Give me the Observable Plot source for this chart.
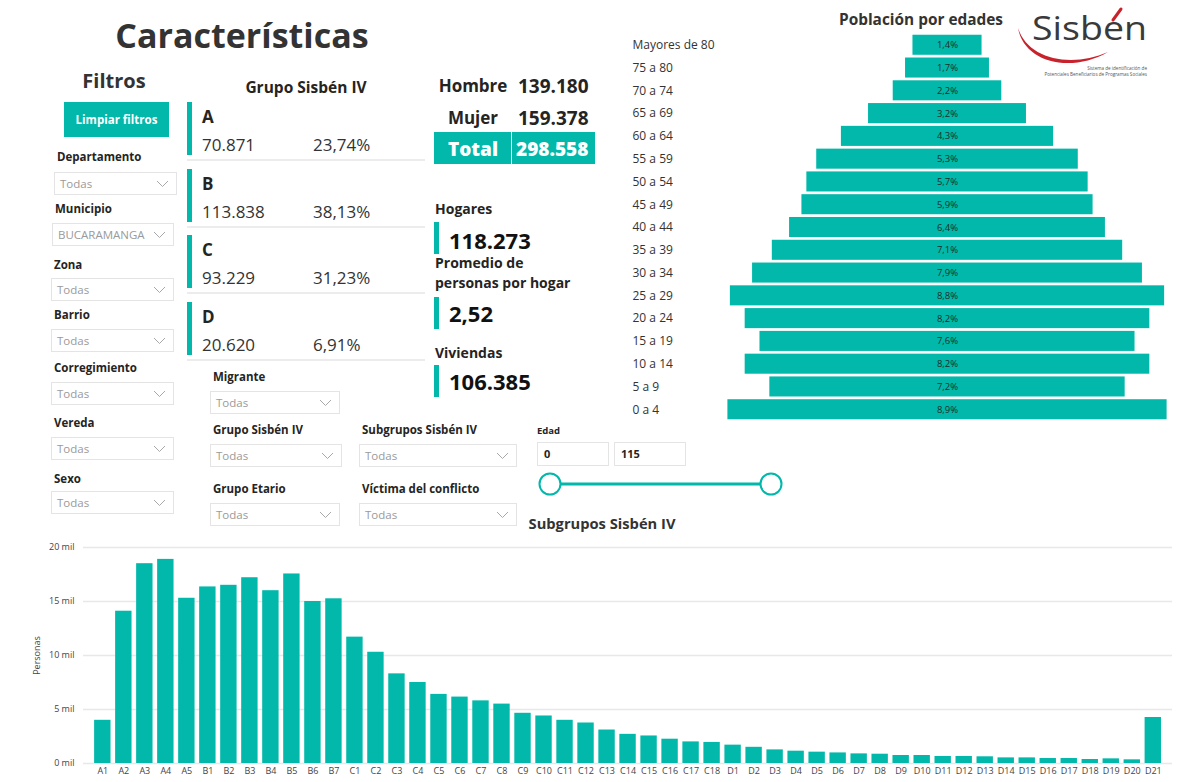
<!DOCTYPE html>
<html><head><meta charset="utf-8">
<script src="https://cdn.jsdelivr.net/npm/d3@7"></script>
<script src="https://cdn.jsdelivr.net/npm/@observablehq/plot@0.6"></script>
<style>
body{margin:0;background:#fff;font-family:"Open Sans","Noto Sans",sans-serif;color:#252423;}
#root{position:relative;width:1196px;height:782px;overflow:hidden;background:#fff;}
.t{position:absolute;white-space:nowrap;line-height:1.2;}
.box{position:absolute;box-sizing:border-box;border:1px solid #e4e4e4;background:#fff;}
.box span{position:absolute;left:5px;top:50%;transform:translateY(-52%);font-size:11.5px;color:#9a9a9a;}
.box svg{position:absolute;right:7px;top:50%;margin-top:-4px;}
.plotwrap{position:absolute;}
</style></head>
<body><div id="root"></div>
<script>
// ---------- data ----------
const ageGroups = ["Mayores de 80","75 a 80","70 a 74","65 a 69","60 a 64","55 a 59","50 a 54","45 a 49","40 a 44","35 a 39","30 a 34","25 a 29","20 a 24","15 a 19","10 a 14","5 a 9","0 a 4"];
const agePct = [1.4,1.7,2.2,3.2,4.3,5.3,5.7,5.9,6.4,7.1,7.9,8.8,8.2,7.6,8.2,7.2,8.9];

const subgroups = ["A1","A2","A3","A4","A5","B1","B2","B3","B4","B5","B6","B7",
  "C1","C2","C3","C4","C5","C6","C7","C8","C9","C10","C11","C12","C13","C14","C15","C16","C17","C18",
  "D1","D2","D3","D4","D5","D6","D7","D8","D9","D10","D11","D12","D13","D14","D15","D16","D17","D18","D19","D20","D21"];
const subgroupPersons = [4000,14100,18500,18900,15300,16350,16500,17200,16000,17550,15000,15250,
  11700,10300,8300,7500,6400,6150,5800,5500,4650,4400,4000,3750,3100,2700,2550,2250,2000,1950,
  1700,1500,1260,1140,1050,980,890,860,740,740,650,650,620,520,520,460,460,370,430,340,4260];
const yTicks = [0,5000,10000,15000,20000];

const groups = ["A","B","C","D"];
const groupCounts = [70871,113838,93229,20620];
const groupPct = [23.74,38.13,31.23,6.91];

const sexLabels = ["Hombre","Mujer"];
const sexCounts = [139180,159378];

const kpiLabels = ["Hogares","Promedio de\npersonas por hogar","Viviendas"];
const kpiValues = ["118.273","2,52","106.385"];

const TEAL = "#01B8AA";
const FONT = '"Open Sans","Noto Sans",sans-serif';
const fmtInt = n => d3.format(",")(n).replace(/,/g,".");
const fmtDec = (n,k) => n.toFixed(k).replace(".",",");

// ---------- helpers ----------
const root = document.getElementById("root");
function txt(str, x, cy, o={}){
  const d = document.createElement("div");
  d.className = "t";
  d.textContent = str;
  d.style.left = x+"px"; d.style.top = cy+"px";
  const ax = o.anchor==="middle"?-50:o.anchor==="end"?-100:0;
  d.style.transform = `translate(${ax}%,-50%)`;
  d.style.fontSize = (o.size||12)+"px";
  d.style.fontWeight = o.weight||400;
  d.style.color = o.color||"#252423";
  root.appendChild(d); return d;
}
function rect(x,y,w,h,color){
  const d=document.createElement("div");
  d.style.cssText=`position:absolute;left:${x}px;top:${y}px;width:${w}px;height:${h}px;background:${color};`;
  root.appendChild(d); return d;
}
function dropdown(x,y,w,h,label){
  const d=document.createElement("div");
  d.className="box";
  d.style.left=x+"px";d.style.top=y+"px";d.style.width=w+"px";d.style.height=h+"px";
  d.innerHTML=`<span>${label||"Todas"}</span><svg width="13" height="8"><polyline points="1,1 6.5,6.5 12,1" fill="none" stroke="#a8a8a8" stroke-width="1"/></svg>`;
  root.appendChild(d); return d;
}

// ---------- header ----------
txt("Características", 242, 35, {anchor:"middle", size:34, weight:700, color:"#333"});
txt("Filtros", 114, 81, {anchor:"middle", size:20, weight:700, color:"#333"});
rect(64,102,105,35,TEAL);
txt("Limpiar filtros", 116.5, 120, {anchor:"middle", size:11.5, weight:700, color:"#fff"});

// left filters
const leftFilters = [
  ["Departamento",57,157,54,172,123,"Todas"],
  ["Municipio",55,209,52,223,122,"BUCARAMANGA"],
  ["Zona",54,265,51,278,123,"Todas"],
  ["Barrio",54,315,51,329,123,"Todas"],
  ["Corregimiento",54,368,51,382,123,"Todas"],
  ["Vereda",54,423,51,437,123,"Todas"],
  ["Sexo",54,479,51,491,123,"Todas"]
];
leftFilters.forEach(f=>{ txt(f[0],f[1],f[2],{size:11.5,weight:700}); dropdown(f[3],f[4],f[5],23,f[6]); });

// middle filters
const midFilters = [
  ["Migrante",213,377,210,391,130,23],
  ["Grupo Sisbén IV",213,430,210,444,132,23],
  ["Subgrupos Sisbén IV",362,430,359,444,158,23],
  ["Grupo Etario",213,489,210,503,130,23],
  ["Víctima del conflicto",362,489,359,503,158,23]
];
midFilters.forEach(f=>{ txt(f[0],f[1],f[2],{size:11.5,weight:700}); dropdown(f[3],f[4],f[5],f[6],"Todas"); });

// Edad slicer
txt("Edad",537,431,{size:9.5,weight:700});
[[537,"0"],[614,"115"]].forEach(([x,v])=>{
  const b=document.createElement("div"); b.className="box";
  b.style.cssText=`left:${x}px;top:442px;width:72px;height:24px;`;
  b.innerHTML=`<span style="color:#252423;font-weight:700;font-size:11px;left:6px">${v}</span>`;
  root.appendChild(b);
});
const sl=document.createElementNS("http://www.w3.org/2000/svg","svg");
sl.setAttribute("width",260);sl.setAttribute("height",30);
sl.style.cssText="position:absolute;left:530px;top:469px;";
sl.innerHTML=`<line x1="20" y1="15" x2="241" y2="15" stroke="${TEAL}" stroke-width="3"/>
<circle cx="20" cy="15" r="10.5" fill="#fff" stroke="${TEAL}" stroke-width="2"/>
<circle cx="241" cy="15" r="10.5" fill="#fff" stroke="${TEAL}" stroke-width="2"/>`;
root.appendChild(sl);

// Grupo Sisbén IV cards
txt("Grupo Sisbén IV", 306, 87, {anchor:"middle", size:15.5, weight:700});
groups.forEach((g,i)=>{
  const y0 = 102 + i*66.7;
  rect(187, y0, 5, 53, TEAL);
  txt(g, 202, y0+15, {size:17, weight:700});
  txt(fmtInt(groupCounts[i]), 202, y0+43, {size:17, color:"#333"});
  txt(fmtDec(groupPct[i],2)+"%", 313, y0+43, {size:17, color:"#333"});
  rect(187, y0+57, 238, 2, "#ececec");
});

// Hombre / Mujer / Total
sexLabels.forEach((s,i)=>{
  const cy = 86 + i*32;
  txt(s, 473, cy, {anchor:"middle", size:17, weight:700});
  txt(fmtInt(sexCounts[i]), 518, cy, {size:19, weight:700});
});
rect(434,132,161,32,TEAL);
rect(510.5,132,1.5,32,"#ffffff");
txt("Total", 473, 149, {anchor:"middle", size:19, weight:800, color:"#fff"});
txt(fmtInt(d3.sum(sexCounts)), 516, 149, {size:19, weight:800, color:"#fff"});

// KPI cards
const kpiPos = [{lab:[209], bar:222, val:240},{lab:[263,283], bar:297, val:313},{lab:[353], bar:365, val:381}];
kpiLabels.forEach((l,i)=>{
  const lines = l.split("\n");
  lines.forEach((ln,j)=>txt(ln, 435, kpiPos[i].lab[j], {size:14, weight:700}));
  rect(434, kpiPos[i].bar, 5, 32, TEAL);
  txt(kpiValues[i], 449, kpiPos[i].val, {size:22, weight:700, color:"#111"});
});

// Titles
txt("Población por edades", 921, 20, {anchor:"middle", size:15.4, weight:700, color:"#333"});
txt("Subgrupos Sisbén IV", 602, 524, {anchor:"middle", size:14.7, weight:700, color:"#333"});

// Logo
const lg=document.createElementNS("http://www.w3.org/2000/svg","svg");
lg.setAttribute("width",186);lg.setAttribute("height",85);
lg.style.cssText="position:absolute;left:1010px;top:0px;";
lg.innerHTML=`<path d="M 8 28 C 14 62, 60 74, 98 52 C 62 68, 18 60, 8 28 Z" fill="#c8232c"/>
<text x="22" y="40" font-family='${FONT}' font-size="33" fill="#3a3a3a" textLength="115" lengthAdjust="spacingAndGlyphs">Sisben</text>
<path d="M 103 20 L 111 9" stroke="#c8232c" stroke-width="3" stroke-linecap="round"/>
<text x="137" y="70" text-anchor="end" font-family='${FONT}' font-size="4.6" fill="#555">Sistema de identificación de</text>
<text x="137" y="76" text-anchor="end" font-family='${FONT}' font-size="4.6" fill="#555">Potenciales Beneficiarios de Programas Sociales</text>`;
root.appendChild(lg);

// ---------- pyramid ----------
const pyrData = ageGroups.map((g,i)=>({g, p: agePct[i]}));
const pyr = Plot.plot({
  width: 576, height: 432,
  marginTop: 32, marginBottom: 10, marginLeft: 100, marginRight: 22,
  x: {domain: [-4.6, 4.6], axis: null},
  y: {domain: ageGroups, padding: 0.12, round: false, label: null},
  style: {fontFamily: FONT, color: "#333", background: "transparent", overflow: "visible"},
  marks: [
    Plot.barX(pyrData, {y: "g", x1: d => -d.p/2, x2: d => d.p/2, fill: TEAL}),
    Plot.text(pyrData, {y: "g", x: 0, text: d => fmtDec(d.p,1)+"%", fontSize: 9.5, fill: "#1f2d2b"}),
    Plot.axisY({tickSize: 0, tickPadding: 0, textAnchor: "start", dx: -88, fontSize: 12, label: null})
  ]
});
const w1=document.createElement("div"); w1.className="plotwrap"; w1.style.left="620px"; w1.style.top="0px";
w1.appendChild(pyr); root.appendChild(w1);

// ---------- subgroup bars ----------
const barData = subgroups.map((s,i)=>({s, v: subgroupPersons[i]}));
const bars = Plot.plot({
  width: 1196, height: 242,
  marginTop: 7, marginBottom: 19, marginLeft: 83, marginRight: 24,
  x: {domain: subgroups, padding: 0.22, round: false, insetLeft: 6.5, insetRight: 6.4, label: null},
  y: {domain: [0, 20000], label: null},
  style: {fontFamily: FONT, color: "#444", background: "transparent", overflow: "visible"},
  marks: [
    Plot.gridY({ticks: yTicks, stroke: "#e8e8e8", strokeOpacity: 1, strokeWidth: 1.5}),
    Plot.barY(barData, {x: "s", y: "v", fill: TEAL}),
    Plot.axisX({tickSize: 0, tickPadding: 4, fontSize: 9, label: null}),
    Plot.axisY({ticks: yTicks, tickSize: 0, tickPadding: 9, fontSize: 9, tickFormat: d => (d/1000)+" mil",
      label: "Personas", labelAnchor: "center", labelArrow: "none", labelOffset: 50})
  ]
});
const w2=document.createElement("div"); w2.className="plotwrap"; w2.style.left="0px"; w2.style.top="540px";
w2.appendChild(bars); root.appendChild(w2);
</script></body></html>
